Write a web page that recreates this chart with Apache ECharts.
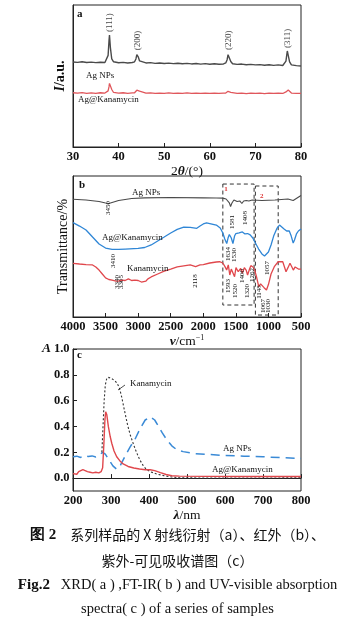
<!DOCTYPE html>
<html><head><meta charset="utf-8">
<script src="https://cdn.jsdelivr.net/npm/echarts@6/dist/echarts.min.js"></script>
<style>html,body{margin:0;padding:0;background:#fff}#c{width:355px;height:623px}</style>
</head><body><div id="c"></div>
<script>
// ---------- DATA ----------
// (a) XRD, intensity in arbitrary units (0-100 frame)
const xrdTheta = [30,31,32,33,34,35,36,37,37.4,37.7,37.9,38.0,38.2,38.5,38.9,40,41,42,43,43.5,43.8,44.0,44.1,44.3,44.6,45.0,46,47,48,49,50,51,52,53,54,55,56,57,58,59,60,61,62,63,63.5,63.8,64.0,64.1,64.3,64.6,65.0,66,67,68,69,70,71,72,73,74,75,76,76.4,76.7,76.9,77.0,77.2,77.5,77.9,79,80];
const xrdAgNPs = [59.9,59.6,60.0,59.5,59.8,59.4,59.7,59.5,60.4,64.5,75.0,78.9,70.0,62.0,60.0,59.3,59.6,59.2,59.5,60.0,62.0,65.0,66.0,63.5,60.6,59.5,59.2,59.4,58.9,59.2,58.8,59.1,58.7,59.0,58.6,58.9,58.5,58.8,58.4,58.7,58.3,58.6,58.3,58.5,59.2,61.5,65.0,66.2,63.8,60.2,58.6,58.2,58.4,57.9,58.2,57.8,58.0,57.6,57.9,57.5,57.8,57.4,57.9,60.5,65.5,67.6,64.5,60.0,57.8,57.3,57.0];
const xrdAgKana = [38.2,37.9,38.3,37.8,38.1,37.8,38.2,38.0,38.2,39.5,42.5,44.8,45.2,40.5,38.4,38.0,38.2,37.8,38.1,38.2,39.0,40.0,40.4,40.6,39.3,38.3,37.9,38.1,37.7,38.0,37.8,38.1,37.7,38.0,37.8,38.1,37.7,37.9,37.7,38.0,37.8,38.0,37.7,38.0,38.0,38.6,39.2,39.4,39.4,38.5,37.9,37.8,38.0,37.6,37.9,37.7,37.9,37.6,37.9,37.7,37.9,37.7,38.0,38.8,39.6,39.9,40.1,39.0,38.0,37.7,37.8];
const xrdPeakTheta = [38.0,44.1,64.1,77.0];
const xrdPeakLabels = ['(111)','(200)','(220)','(311)'];

// (b) FT-IR, transmittance (0-100 frame)
const irAgNPsWn = [4000,3800,3600,3500,3450,3400,3300,3100,2900,2500,2000,1800,1700,1650,1600,1581,1560,1530,1480,1440,1408,1380,1340,1300,1250,1100,900,700,620,560,500];
const irAgNPs   = [83.5,83.0,81.9,80.9,80.5,81.2,82.6,84.0,84.5,84.8,84.5,84.4,84.3,83.7,80.9,78.4,80.9,83.0,81.9,82.3,80.5,82.3,82.6,82.3,83.0,82.6,83.0,83.7,82.6,84.4,86.2];
const irAgKanaWn = [4000,3900,3800,3700,3600,3500,3400,3300,3200,3000,2900,2800,2700,2600,2500,2400,2300,2200,2100,2050,2000,1950,1900,1800,1740,1700,1670,1640,1620,1600,1570,1545,1520,1500,1450,1400,1360,1320,1280,1240,1200,1150,1100,1060,1030,1000,960,920,870,830,800,760,720,680,650,620,600,570,540,500];
const irAgKana   = [66.9,64.5,61.7,56.7,51.8,48.9,48.0,48.0,48.2,48.6,49.3,51.1,53.9,56.7,59.6,62.1,63.8,63.5,62.9,64.5,66.0,66.7,66.3,65.2,63.1,59.6,55.3,52.1,56.0,58.5,56.0,52.1,57.4,59.2,59.6,60.3,58.9,59.2,58.2,56.0,52.5,48.2,44.7,43.3,44.0,46.1,51.1,57.4,62.8,65.2,64.9,62.4,61.0,61.0,57.4,52.5,54.6,58.9,61.0,62.4];
const irKanaWn = [4000,3900,3800,3700,3650,3600,3550,3500,3450,3400,3340,3320,3305,3250,3200,3150,3100,3050,3000,2950,2920,2880,2850,2800,2700,2600,2500,2400,2300,2200,2118,2050,2000,1900,1800,1750,1700,1667,1641,1616,1593,1570,1554,1520,1498,1463,1426,1400,1370,1340,1320,1290,1270,1237,1211,1180,1160,1148,1120,1098,1067,1057,1030,1000,960,910,850,820,780,730,700,669,640,618,590,566,540,515,500];
const irKana   = [38.1,37.6,37.2,36.9,35.5,33.3,30.5,27.7,26.6,26.2,25.5,26.6,25.5,26.2,25.9,27.0,25.9,26.2,25.9,24.8,23.8,25.5,27.0,28.4,30.5,32.6,34.0,35.5,36.2,36.9,35.8,36.9,37.2,38.3,39.0,39.2,38.3,35.7,33.3,36.9,29.8,34.0,34.5,28.6,35.0,32.1,34.5,31.0,35.0,33.0,29.8,34.0,36.4,35.5,33.3,28.0,23.9,21.5,23.5,23.9,20.8,20.4,19.1,23.0,30.5,35.7,39.2,38.5,39.2,32.1,35.0,38.1,35.5,33.3,35.5,36.9,34.0,33.3,34.0];
const irBoxes = [[1700,1220],[1200,850]];
const irBoxNames = ['1','2'];

// (c) UV-vis absorbance
const uvAgNPsWl = [200,210,220,230,240,250,260,270,278,285,295,305,315,325,337,350,363,376,390,403,415,425,435,446,460,473,490,520,550,600,650,700,750,800];
const uvAgNPs   = [0.165,0.170,0.160,0.175,0.168,0.172,0.163,0.178,0.200,0.185,0.140,0.095,0.068,0.100,0.170,0.240,0.300,0.380,0.450,0.475,0.450,0.400,0.350,0.300,0.250,0.220,0.205,0.190,0.185,0.175,0.170,0.165,0.158,0.152];
const uvAgKanaWl = [200,205,210,215,220,226,232,238,245,252,260,268,274,278,281,284,286,289,293,298,302,308,315,323,332,345,360,375,390,403,415,430,445,460,480,550,650,800];
const uvAgKana   = [0.035,0.045,0.030,0.050,0.055,0.065,0.058,0.050,0.045,0.040,0.045,0.040,0.050,0.080,0.250,0.450,0.514,0.490,0.400,0.320,0.270,0.210,0.165,0.135,0.110,0.090,0.078,0.070,0.065,0.065,0.058,0.042,0.028,0.018,0.015,0.013,0.012,0.012];
const uvKanaWl = [276,279,282,285,289,295,302,310,316,322,328,335,343,350,357,363,370,376,385,394,405,420,440,460,480,550,650,800];
const uvKana   = [0.20,0.40,0.60,0.72,0.775,0.78,0.77,0.755,0.735,0.70,0.63,0.53,0.42,0.34,0.28,0.23,0.18,0.14,0.095,0.065,0.048,0.032,0.018,0.008,0.003,0.0,0.0,0.002];
const uvTickValues = [0,0.2,0.4,0.6,0.8,1.0];

// ---------- CHART ----------
const zip = (xs, ys) => xs.map((x, i) => [x, ys[i]]);
const SERIF = "'Liberation Serif','DejaVu Serif',serif";
const CJK = "'Noto Sans CJK SC','Noto Sans CJK JP',sans-serif";
const AX = '#222';
const TICKFONT = { fontFamily: SERIF, fontWeight: 'bold', fontSize: 12.5, color: '#111', margin: 3.5,
  formatter: val => String(val) };
const NAMERICH = {
  n: { fontFamily: SERIF, fontWeight: 'normal', fontSize: 13.5, color: '#111' },
  i: { fontFamily: SERIF, fontWeight: 'bold', fontStyle: 'italic', fontSize: 13.5, color: '#111' },
  s: { fontFamily: SERIF, fontWeight: 'normal', fontSize: 8, color: '#111', verticalAlign: 'top' }
};

function xAx(grid, extra) {
  return Object.assign({
    gridIndex: grid, type: 'value',
    axisLine: { lineStyle: { color: AX, width: 1 } },
    axisTick: { inside: true, length: 4, lineStyle: { color: AX } },
    axisLabel: TICKFONT,
    splitLine: { show: false },
    nameLocation: 'middle',
    nameTextStyle: { fontFamily: SERIF, fontSize: 13.5, color: '#111', rich: NAMERICH }
  }, extra);
}
function yAx(grid, extra) {
  return Object.assign({
    gridIndex: grid, type: 'value',
    axisLine: { show: true, lineStyle: { color: AX, width: 1 } },
    axisTick: { show: false }, axisLabel: { show: false }, splitLine: { show: false },
    nameLocation: 'middle', nameRotate: 90,
    nameTextStyle: { fontFamily: SERIF, fontSize: 14, color: '#111',
      rich: { n: { fontFamily: SERIF, fontWeight: 'bold', fontSize: 14, color: '#111' },
              i: { fontFamily: SERIF, fontWeight: 'bold', fontStyle: 'italic', fontSize: 14, color: '#111' } } }
  }, extra);
}

function t(x, y, text, o) {
  o = o || {};
  return { type: 'text', x: x, y: y, rotation: o.rot || 0, z: 100,
    style: { text: text, fontFamily: o.ff || SERIF, fontSize: o.fs || 9, fontWeight: o.fw || 'normal',
      fontStyle: o.fst || 'normal',
      fill: o.fill || '#111', align: o.align || 'left', verticalAlign: 'middle', rich: o.rich } };
}
function v(x, y, text) { return t(x, y, text, { rot: Math.PI / 2, fs: 7, align: 'center' }); }

const irAnnot = [
  ['3450',108,208],['3410',113,261],['3340',117,282],['3305',121,282],['2118',195,281],
  ['1581',232,222],['1408',245,218],['1634',228,254],['1530',234,255],
  ['1593',228,286],['1520',235,291],['1400',242,276],['1320',247,291],['1262',252,275],
  ['1148',259,292],['1067',263,306],['1030',268,306],['1057',267,268]
];

const graphics = [
  t(77, 14, 'a', { fw: 'bold', fs: 11 }),
  t(79, 185, 'b', { fw: 'bold', fs: 11 }),
  t(77, 355, 'c', { fw: 'bold', fs: 11 }),
  t(46.5, 349, 'A', { fw: 'bold', fst: 'italic', fs: 13.5, align: 'center' }),
  t(86, 76, 'Ag NPs'), t(78, 100, 'Ag@Kanamycin'),
  t(132, 193, 'Ag NPs'), t(102, 238, 'Ag@Kanamycin'), t(127, 269, 'Kanamycin'),
  t(130, 384, 'Kanamycin'), t(223, 449, 'Ag NPs'), t(212, 470, 'Ag@Kanamycin'),
  { type: 'line', z: 100, shape: { x1: 118, y1: 390, x2: 125, y2: 385 }, style: { stroke: '#222', lineWidth: 0.8 } },
  t(177.5, 535, '{b|图 2}　系列样品的 X 射线衍射（a）、红外（b）、',
    { ff: CJK, fs: 14, align: 'center', rich: { b: { fontFamily: SERIF, fontWeight: 'bold', fontSize: 15 } } }),
  t(177.5, 561, '紫外-可见吸收谱图（c）', { ff: CJK, fs: 14, align: 'center' }),
  t(177.5, 585, '{b|Fig.2}   XRD( a ) ,FT-IR( b ) and UV-visible absorption',
    { ff: SERIF, fs: 14.5, align: 'center', rich: { b: { fontFamily: SERIF, fontWeight: 'bold', fontSize: 15 } } }),
  t(177.5, 609, 'spectra( c ) of a series of samples', { ff: SERIF, fs: 14.5, align: 'center' })
].concat(irAnnot.map(a => v(a[1], a[2], a[0])));

const gridBase = { show: true, borderColor: AX, borderWidth: 1, backgroundColor: 'transparent' };

const option = {
  animation: false,
  backgroundColor: '#fff',
  grid: [
    Object.assign({ left: 73, top: 5, width: 228, height: 142 }, gridBase),
    Object.assign({ left: 73, top: 176, width: 228, height: 141 }, gridBase),
    Object.assign({ left: 73, top: 349, width: 228, height: 142 }, gridBase)
  ],
  xAxis: [
    xAx(0, { min: 30, max: 80, interval: 10, name: '{n|2}{i|θ}{n|/(°)}', nameGap: 12.5 }),
    xAx(1, { min: 500, max: 4000, interval: 500, inverse: true, name: '{i|ν}{n|/cm}{s|−1}', nameGap: 15 }),
    xAx(2, { min: 200, max: 800, interval: 100, name: '{i|λ}{n|/nm}', nameGap: 15.5 })
  ],
  yAxis: [
    yAx(0, { min: 0, max: 100, name: '{i|I}{n|/a.u.}', nameGap: 6 }),
    yAx(1, { min: 0, max: 100, name: 'Transmittance/%', nameGap: 3 }),
    yAx(2, { min: -0.1, max: 1.0,
      axisTick: { show: true, inside: true, length: 4, customValues: uvTickValues, lineStyle: { color: AX } },
      axisLabel: Object.assign({}, TICKFONT, { show: true, customValues: uvTickValues, formatter: val => val.toFixed(1) }) })
  ],
  series: [
    { type: 'line', xAxisIndex: 0, yAxisIndex: 0, data: zip(xrdTheta, xrdAgNPs), showSymbol: false,
      lineStyle: { color: '#4a4a4a', width: 1.4 }, z: 3 },
    { type: 'line', xAxisIndex: 0, yAxisIndex: 0, data: zip(xrdTheta, xrdAgKana), showSymbol: false,
      lineStyle: { color: '#e0575c', width: 1.3 }, z: 3 },
    { type: 'scatter', xAxisIndex: 0, yAxisIndex: 0, symbolSize: 0, silent: true,
      data: xrdPeakTheta.map((th, i) => ({ value: [th, xrdAgNPs[xrdTheta.indexOf(th)]], name: xrdPeakLabels[i] })),
      label: { show: true, position: 'top', distance: 3, rotate: 90, align: 'left', verticalAlign: 'middle',
        formatter: p => p.name, fontFamily: SERIF, fontSize: 9, color: '#111' } },

    { type: 'line', xAxisIndex: 1, yAxisIndex: 1, data: zip(irAgNPsWn, irAgNPs), showSymbol: false,
      lineStyle: { color: '#4a4a4a', width: 1.1 } },
    { type: 'line', xAxisIndex: 1, yAxisIndex: 1, data: zip(irAgKanaWn, irAgKana), showSymbol: false,
      lineStyle: { color: '#2f86d6', width: 1.3 } },
    { type: 'line', xAxisIndex: 1, yAxisIndex: 1, data: zip(irKanaWn, irKana), showSymbol: false,
      lineStyle: { color: '#e0474c', width: 1.3 },
      markArea: { silent: true,
        itemStyle: { color: 'rgba(0,0,0,0)', borderColor: '#333', borderWidth: 1, borderType: [4, 3] },
        label: { show: true, position: 'insideTopLeft', color: '#d33', fontSize: 7, fontWeight: 'bold', fontFamily: SERIF, distance: 2 },
        data: [
          [{ name: irBoxNames[0], xAxis: irBoxes[0][0], yAxis: 94.3 }, { xAxis: irBoxes[0][1], yAxis: 8.5 }],
          [{ name: irBoxNames[1], xAxis: irBoxes[1][0], yAxis: 92.9, label: { offset: [3, 5] } }, { xAxis: irBoxes[1][1], yAxis: 1.4 }]
        ] } },

    { type: 'line', xAxisIndex: 2, yAxisIndex: 2, data: zip(uvAgNPsWl, uvAgNPs), showSymbol: false,
      lineStyle: { color: '#3a8ad6', width: 1.5, type: [9, 6] } },
    { type: 'line', xAxisIndex: 2, yAxisIndex: 2, data: zip(uvKanaWl, uvKana), showSymbol: false,
      lineStyle: { color: '#333', width: 1.1, type: [2, 2] } },
    { type: 'line', xAxisIndex: 2, yAxisIndex: 2, data: zip(uvAgKanaWl, uvAgKana), showSymbol: false,
      lineStyle: { color: '#e0474c', width: 1.4 } }
  ],
  graphic: graphics
};

const chart = echarts.init(document.getElementById('c'), null, { renderer: 'canvas' });
chart.setOption(option);
</script>
</body></html>
